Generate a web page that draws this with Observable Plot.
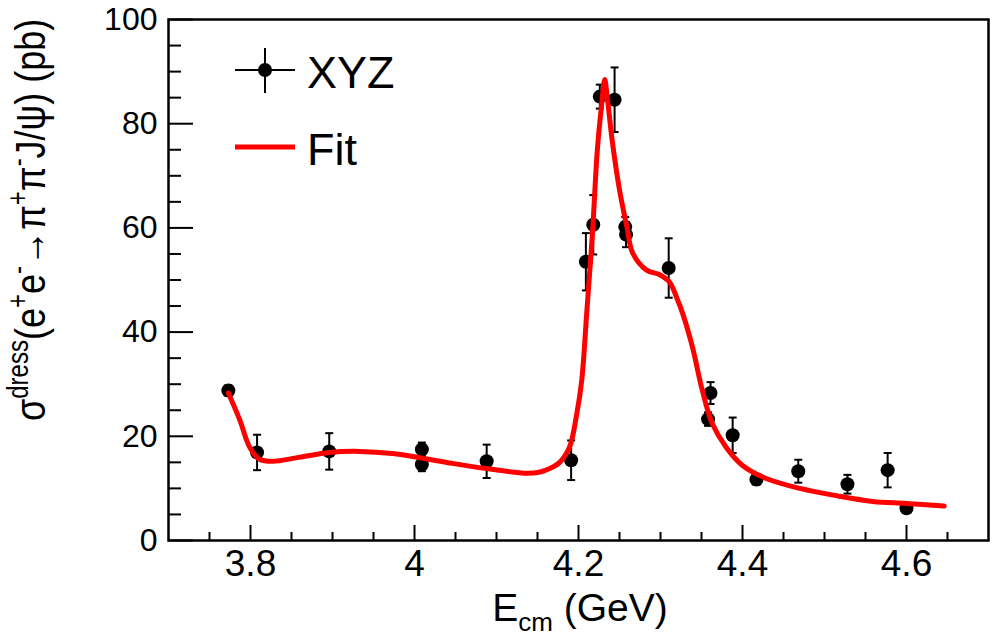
<!DOCTYPE html>
<html><head><meta charset="utf-8">
<script src="https://cdn.jsdelivr.net/npm/d3@7"></script>
<script src="https://cdn.jsdelivr.net/npm/@observablehq/plot@0.6"></script>
<style>html,body{margin:0;padding:0;background:#fff;} svg{display:block}</style>
</head><body><div id="chart"></div>
<script>
// ---- Data ----
const energy  = [3.773, 3.808, 3.896, 4.009, 4.009, 4.088, 4.191, 4.209, 4.218, 4.226, 4.244, 4.257, 4.258, 4.310, 4.358, 4.361, 4.388, 4.417, 4.468, 4.528, 4.577, 4.600];
const xsec    = [28.8, 16.9, 17.1, 17.5, 14.6, 15.2, 15.4, 53.5, 60.6, 85.2, 84.6, 60.2, 58.7, 52.3, 23.3, 28.3, 20.2, 11.7, 13.3, 10.8, 13.5, 6.2];
const xsecErr = [1.0, 3.4, 3.5, 1.3, 1.3, 3.2, 3.8, 5.5, 5.7, 2.3, 6.2, 1.9, 2.4, 5.7, 1.3, 2.1, 3.4, 1.0, 2.2, 1.8, 3.3, 0.8];

const fitEnergy = [3.773, 3.787, 3.799, 3.811, 3.827, 3.860, 3.896, 3.933, 3.973, 4.010, 4.046, 4.088, 4.137, 4.152, 4.165, 4.177, 4.189, 4.198, 4.204, 4.210, 4.217, 4.223, 4.228, 4.232, 4.235, 4.241, 4.250, 4.259, 4.266, 4.283, 4.299, 4.311, 4.320, 4.327, 4.339, 4.351, 4.363, 4.380, 4.400, 4.429, 4.470, 4.518, 4.559, 4.600, 4.646];
const fitXsec   = [28.3, 23.1, 17.9, 15.6, 15.2, 16.0, 16.9, 17.1, 16.7, 15.8, 14.8, 13.8, 12.9, 13.1, 13.8, 15.0, 17.9, 24.4, 30.8, 43.6, 59.0, 75.0, 83.3, 88.5, 85.2, 76.9, 67.3, 60.2, 55.2, 51.9, 51.0, 49.6, 46.5, 43.6, 37.1, 28.8, 22.5, 17.9, 14.4, 11.9, 10.0, 8.5, 7.5, 7.1, 6.6];

const xMajorTicks = [3.8, 4, 4.2, 4.4, 4.6];
const xMinorTicks = [3.75, 3.85, 3.9, 3.95, 4.05, 4.1, 4.15, 4.25, 4.3, 4.35, 4.45, 4.5, 4.55, 4.65];
const yMajorTicks = [0, 20, 40, 60, 80, 100];
const yMinorTicks = [5, 10, 15, 25, 30, 35, 45, 50, 55, 65, 70, 75, 85, 90, 95];
const seriesLabels = ["XYZ", "Fit"];

// ---- Layout ----
const W = 992, H = 639, mL = 168, mR = 4, mT = 19, mB = 99;
const innerW = W - mL - mR, innerH = H - mT - mB;
const FONT = "'Liberation Sans', Arial, Helvetica, sans-serif";

const points = energy.map((e, i) => ({e, y: xsec[i], err: xsecErr[i]}));
const fit = fitEnergy.map((e, i) => ({e, y: fitXsec[i]}));

const capSymbol = {draw(ctx, size) { const r = Math.sqrt(size / Math.PI); ctx.moveTo(-r, 0); ctx.lineTo(r, 0); }};

const plot = Plot.plot({
  width: W, height: H,
  marginLeft: mL, marginRight: mR, marginTop: mT, marginBottom: mB,
  style: {fontFamily: FONT, background: "white", color: "black", overflow: "visible"},
  x: {domain: [3.7, 4.7]},
  y: {domain: [0, 100]},
  marks: [
    Plot.axisX(xMajorTicks, {tickSize: 0, tickPadding: 9, fontSize: 37, label: null, tickFormat: d => String(d)}),
    Plot.axisY(yMajorTicks, {tickSize: 0, tickPadding: 11, fontSize: 32, label: null, tickFormat: d => String(d)}),
    Plot.tickX(xMajorTicks, {x: d => d, insetTop: innerH - 15, stroke: "black", strokeWidth: 2}),
    Plot.tickX(xMinorTicks, {x: d => d, insetTop: innerH - 8, stroke: "black", strokeWidth: 2}),
    Plot.tickY(yMajorTicks, {y: d => d, insetRight: innerW - 25, stroke: "black", strokeWidth: 2}),
    Plot.tickY(yMinorTicks, {y: d => d, insetRight: innerW - 13, stroke: "black", strokeWidth: 2}),
    Plot.ruleX(points, {x: "e", y1: d => d.y - d.err, y2: d => d.y + d.err, stroke: "black", strokeWidth: 2}),
    Plot.dot(points, {x: "e", y: d => d.y + d.err, symbol: capSymbol, r: 4, fill: "none", stroke: "black", strokeWidth: 2}),
    Plot.dot(points, {x: "e", y: d => d.y - d.err, symbol: capSymbol, r: 4, fill: "none", stroke: "black", strokeWidth: 2}),
    Plot.dot(points, {x: "e", y: "y", r: 7, fill: "black", stroke: "none"}),
    Plot.line(fit, {x: "e", y: "y", stroke: "#ff0000", strokeWidth: 5, curve: "catmull-rom"}),
    Plot.frame({stroke: "black", strokeWidth: 2.5})
  ]
});

document.getElementById("chart").appendChild(plot);
const svg = d3.select(plot);

// ---- Y axis title (rotated, with superscripts) ----
const yParts = [["σ", 0], ["dress", 1], ["(e", 0], ["+", 1], ["e", 0], ["-", 1], ["→π", 0], ["+", 1], ["π", 0], ["-", 1], ["J/ψ) (pb)", 0]];
const yt = svg.append("text")
  .attr("transform", "translate(45,421) rotate(-90) scale(1,1.2)")
  .attr("text-anchor", "start")
  .attr("font-family", FONT).attr("font-size", 36).attr("fill", "black");
let cur = 0;
for (const [t, sup] of yParts) {
  const target = sup ? -14 : 0;
  yt.append("tspan").attr("dy", target - cur).attr("font-size", sup ? 24 : 36).text(t);
  cur = target;
}

// ---- X axis title ----
const xt = svg.append("text")
  .attr("x", 580).attr("y", 621).attr("text-anchor", "middle")
  .attr("font-family", FONT).attr("font-size", 39).attr("fill", "black");
xt.append("tspan").text("E");
xt.append("tspan").attr("dy", 10).attr("font-size", 26).text("cm");
xt.append("tspan").attr("dy", -10).text(" (GeV)");

// ---- Legend ----
const lg = svg.append("g").attr("text-anchor", "start");
lg.append("line").attr("x1", 235).attr("x2", 295).attr("y1", 70).attr("y2", 70).attr("stroke", "black").attr("stroke-width", 2);
lg.append("line").attr("x1", 265).attr("x2", 265).attr("y1", 48).attr("y2", 93).attr("stroke", "black").attr("stroke-width", 2);
lg.append("circle").attr("cx", 265).attr("cy", 70).attr("r", 7).attr("fill", "black");
lg.append("text").attr("x", 307).attr("y", 88).attr("text-anchor", "start").attr("font-family", FONT).attr("font-size", 45).attr("fill", "black").text(seriesLabels[0]);
lg.append("line").attr("x1", 235).attr("x2", 295).attr("y1", 147).attr("y2", 147).attr("stroke", "#ff0000").attr("stroke-width", 5);
lg.append("text").attr("x", 307).attr("y", 165).attr("text-anchor", "start").attr("font-family", FONT).attr("font-size", 45).attr("fill", "black").text(seriesLabels[1]);
</script>
</body></html>
